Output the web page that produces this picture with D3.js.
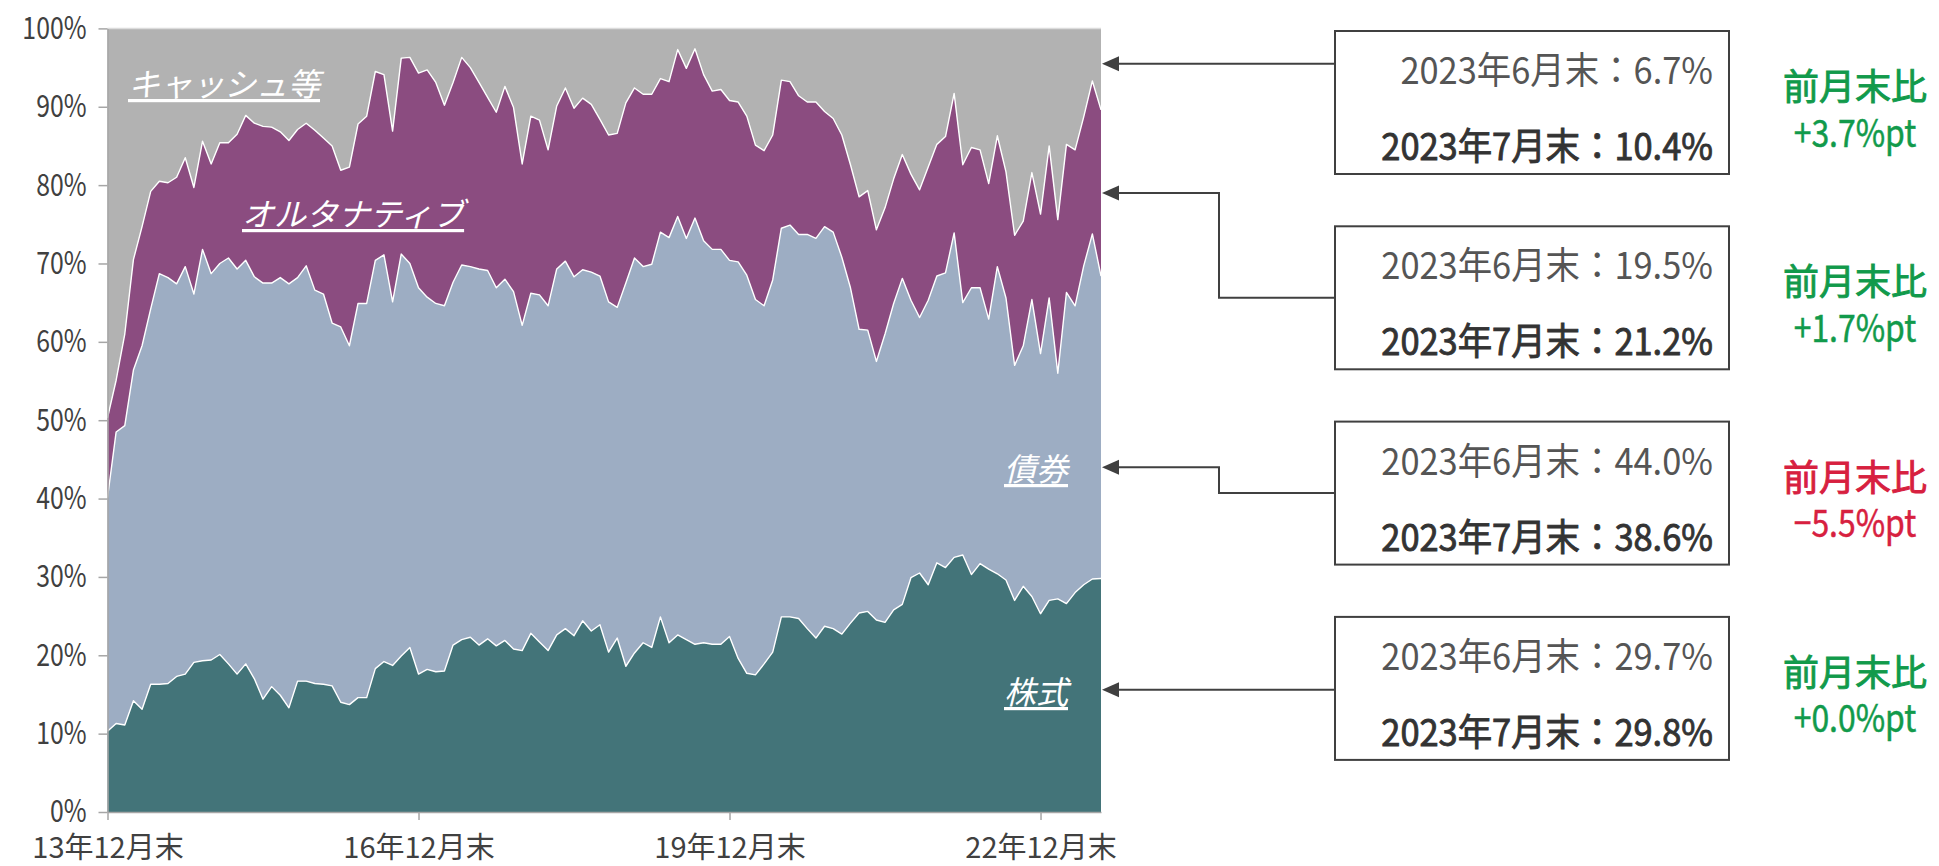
<!DOCTYPE html>
<html>
<head>
<meta charset="utf-8">
<script src="https://cdn.jsdelivr.net/npm/d3@7"></script>
<style>
  body { margin: 0; background: #fff; }
  text { font-family: "Noto Sans CJK JP", sans-serif; }
</style>
</head>
<body>
<div id="chart"></div>
<script>
var W = 1939, H = 866;

// 資産配分（%）2013年12月末〜2023年7月末、月次
var stock = [10.3, 11.3, 11.1, 14.2, 13.1, 16.3, 16.3, 16.4, 17.3, 17.6,
  19.1, 19.3, 19.4, 20.1, 18.9, 17.6, 18.9, 17.0, 14.4, 16.0,
  14.9, 13.3, 16.7, 16.7, 16.4, 16.3, 16.1, 14.0, 13.7, 14.6,
  14.6, 18.3, 19.2, 18.7, 19.9, 21.0, 17.6, 18.2, 17.9, 18.0,
  21.3, 22.0, 22.3, 21.3, 22.1, 21.2, 21.9, 20.8, 20.6, 22.8,
  21.7, 20.6, 22.6, 23.4, 22.5, 24.4, 23.1, 23.9, 20.4, 22.2,
  18.6, 20.3, 21.6, 21.0, 24.9, 21.6, 22.6, 22.0, 21.4, 21.6,
  21.4, 21.4, 22.4, 19.6, 17.7, 17.5, 18.9, 20.4, 24.9, 24.9,
  24.7, 23.4, 22.2, 23.7, 23.4, 22.7, 24.1, 25.4, 25.6, 24.5,
  24.2, 25.8, 26.5, 29.9, 30.5, 29.0, 31.8, 31.2, 32.5, 32.8,
  30.3, 31.7, 31.0, 30.4, 29.6, 27.0, 28.8, 27.5, 25.3, 27.0,
  27.2, 26.6, 28.0, 29.0, 29.7, 29.8];
var bond = [29.8, 37.2, 38.2, 42.2, 46.4, 47.9, 52.4, 51.8, 50.1, 52.0,
  47.0, 52.5, 49.3, 49.9, 51.8, 51.7, 51.5, 51.3, 53.1, 51.5,
  53.3, 54.1, 51.5, 53.0, 50.2, 49.8, 46.3, 47.9, 45.8, 50.3,
  50.3, 52.1, 51.9, 46.4, 51.3, 49.0, 49.3, 47.5, 47.0, 46.6,
  46.3, 47.8, 47.3, 48.0, 47.0, 45.7, 46.1, 45.6, 41.5, 43.4,
  44.3, 44.0, 46.7, 46.9, 45.8, 44.8, 45.8, 44.5, 44.7, 42.2,
  48.9, 50.4, 48.0, 48.9, 49.1, 51.7, 53.4, 51.2, 54.4, 51.3,
  50.4, 50.4, 48.0, 50.6, 50.8, 47.9, 45.7, 47.5, 49.6, 50.0,
  49.0, 50.3, 51.0, 51.0, 50.6, 48.1, 42.8, 36.2, 35.9, 33.0,
  36.8, 39.1, 41.6, 35.4, 32.6, 36.3, 36.6, 37.6, 41.4, 32.2,
  36.6, 35.2, 31.9, 39.2, 36.0, 30.0, 30.7, 37.9, 33.2, 38.6,
  28.8, 39.7, 36.6, 40.7, 44.0, 38.6];
var alt = [10.2, 6.6, 11.7, 14.1, 15.2, 15.0, 11.8, 12.1, 13.6, 13.9,
  13.6, 13.8, 14.0, 15.4, 14.7, 17.2, 18.5, 19.6, 20.0, 19.9,
  18.6, 18.3, 18.9, 18.2, 20.4, 19.9, 22.6, 20.0, 22.8, 22.9,
  23.9, 24.1, 23.0, 21.8, 25.0, 26.3, 27.4, 29.0, 28.2, 25.6,
  25.5, 26.5, 25.4, 23.8, 22.1, 22.4, 24.6, 23.5, 20.6, 22.6,
  22.3, 19.9, 20.8, 22.1, 21.5, 21.9, 21.4, 20.0, 21.3, 22.2,
  23.0, 21.7, 22.0, 21.7, 19.6, 19.9, 21.3, 21.7, 21.6, 21.2,
  20.2, 20.4, 20.4, 20.4, 20.3, 19.7, 19.8, 18.5, 18.9, 18.3,
  17.7, 16.9, 17.4, 14.7, 14.5, 15.6, 15.7, 16.9, 17.8, 16.8,
  16.1, 15.9, 15.8, 16.1, 16.3, 17.0, 16.8, 17.4, 17.8, 17.6,
  17.9, 17.6, 17.3, 16.7, 16.1, 16.6, 15.9, 16.2, 17.8, 19.4,
  19.6, 18.9, 19.9, 19.0, 19.5, 21.2];
var cash = [49.7, 44.9, 39.0, 29.5, 25.3, 20.8, 19.5, 19.7, 19.0, 16.5,
  20.3, 14.4, 17.3, 14.6, 14.6, 13.5, 11.1, 12.1, 12.5, 12.6,
  13.2, 14.3, 12.9, 12.1, 13.0, 14.0, 15.0, 18.1, 17.7, 12.2,
  11.2, 5.5, 5.9, 13.1, 3.8, 3.7, 5.7, 5.3, 6.9, 9.8,
  6.9, 3.7, 5.0, 6.9, 8.8, 10.7, 7.4, 10.1, 17.3, 11.2,
  11.7, 15.5, 9.9, 7.6, 10.2, 8.9, 9.7, 11.6, 13.6, 13.4,
  9.5, 7.6, 8.4, 8.4, 6.4, 6.8, 2.7, 5.1, 2.6, 5.9,
  8.0, 7.8, 9.2, 9.4, 11.2, 14.9, 15.6, 13.6, 6.6, 6.8,
  8.6, 9.4, 9.4, 10.6, 11.5, 13.6, 17.4, 21.5, 20.7, 25.7,
  22.9, 19.2, 16.1, 18.6, 20.6, 17.7, 14.8, 13.8, 8.3, 17.4,
  15.2, 15.5, 19.8, 13.7, 18.3, 26.4, 24.6, 18.4, 23.7, 15.0,
  24.4, 14.8, 15.5, 11.3, 6.7, 10.4];

var keys = ["stock", "bond", "alt", "cash"];
var seriesNames = ["株式", "債券", "オルタナティブ", "キャッシュ等"];
var colors = ["#437479", "#9dadc3", "#8b4c80", "#b2b2b2"];

var monthFmt = d3.timeFormat("%y年%-m月末");
var categories = d3.timeMonth.range(new Date(2013, 11, 1), new Date(2023, 7, 1)).map(monthFmt);
var xTickLabels = ["13年12月末", "16年12月末", "19年12月末", "22年12月末"];
var yTicks = [0, 0.1, 0.2, 0.3, 0.4, 0.5, 0.6, 0.7, 0.8, 0.9, 1];

// 右側の注記
var noteOrder = ["cash", "alt", "bond", "stock"];
var prevLabel = "2023年6月末";
var currLabel = "2023年7月末";
var diffs = [3.7, 1.7, -5.5, 0.0];
var arrowAt = [0.955, 0.79, 0.44, 0.156];
var elbow = [false, true, true, false];

var rows = categories.map(function (c, i) {
  return { cat: c, stock: stock[i], bond: bond[i], alt: alt[i], cash: cash[i] };
});
var values = { stock: stock, bond: bond, alt: alt, cash: cash };

var plotL = 107.5, plotR = 1101, plotT = 28.4, plotB = 812;

// 文字幅を詰める（元図は縦長の字形）
function squeeze(sel, k) {
  sel.each(function () {
    var w = this.getComputedTextLength();
    d3.select(this).attr("textLength", w * k).attr("lengthAdjust", "spacingAndGlyphs");
  });
}

var svg = d3.select("#chart").append("svg")
  .attr("width", W)
  .attr("height", H);

var x = d3.scalePoint().domain(categories).range([plotL, plotR]);
var y = d3.scaleLinear().domain([0, 1]).range([plotB, plotT]);

var series = d3.stack().keys(keys).offset(d3.stackOffsetExpand)(rows);

var area = d3.area()
  .x(function (d) { return x(d.data.cat); })
  .y0(function (d) { return y(d[0]); })
  .y1(function (d) { return y(d[1]); });

svg.append("g").selectAll("path")
  .data(series)
  .join("path")
  .attr("d", area)
  .attr("fill", function (d, i) { return colors[i]; });

var edge = d3.line()
  .x(function (d) { return x(d.data.cat); })
  .y(function (d) { return y(d[1]); });

svg.append("g").selectAll("path")
  .data(series.slice(0, 3))
  .join("path")
  .attr("d", edge)
  .attr("fill", "none")
  .attr("stroke", "#fff")
  .attr("stroke-width", 1.4)
  .attr("stroke-linejoin", "round");

svg.append("line")
  .attr("x1", plotL).attr("x2", plotR)
  .attr("y1", y(1)).attr("y2", y(1))
  .attr("stroke", "#dcdcdc").attr("stroke-width", 1.5);

// 軸
var yAxis = svg.append("g")
  .attr("transform", "translate(" + plotL + ",0)")
  .call(d3.axisLeft(y).tickValues(yTicks)
    .tickFormat(function (d) { return Math.round(d * 100) + "%"; })
    .tickSize(9).tickSizeOuter(0).tickPadding(12));

var xAxis = svg.append("g")
  .attr("transform", "translate(0," + plotB + ")")
  .call(d3.axisBottom(x).tickValues(xTickLabels)
    .tickSize(8).tickSizeOuter(0).tickPadding(17));

svg.selectAll(".domain, .tick line").attr("stroke", "#a6a6a6").attr("stroke-width", 1.5);
yAxis.selectAll("text")
  .attr("fill", "#404040")
  .style("font-size", "31px")
  .call(squeeze, 0.8);
xAxis.selectAll("text")
  .attr("fill", "#404040")
  .style("font-size", "29px");

// 系列名（グラフ内）
var labelPos = [[1004, 690], [1004, 467], [242, 212], [128, 82]];
svg.append("g").selectAll("text")
  .data(seriesNames)
  .join("text")
  .attr("x", function (d, i) { return labelPos[i][0]; })
  .attr("y", function (d, i) { return labelPos[i][1]; })
  .attr("dominant-baseline", "central")
  .attr("fill", "#fff")
  .style("font-size", "32px")
  .style("font-style", "italic")
  .style("text-decoration", "underline")
  .text(function (d) { return d; });

// 注記ボックスと矢印
var boxX = 1335, boxW = 394, boxH = 143, boxTop0 = 31, boxStep = 195.3;
var elbowX = 1219, tipX = plotR + 1;
var green = "#119a4b", red = "#d7203f";
var fmt1 = d3.format(".1f");

var notes = svg.append("g").selectAll("g")
  .data(noteOrder)
  .join("g");

notes.each(function (k, i) {
  var g = d3.select(this);
  var bt = boxTop0 + boxStep * i;
  var ty = y(arrowAt[i]);
  var v = values[k];

  g.append("rect")
    .attr("x", boxX).attr("y", bt)
    .attr("width", boxW).attr("height", boxH)
    .attr("fill", "#fff").attr("stroke", "#404040").attr("stroke-width", 2);

  var pts;
  if (elbow[i]) {
    var my = bt + boxH / 2;
    pts = [[boxX, my], [elbowX, my], [elbowX, ty], [tipX + 14, ty]];
  } else {
    pts = [[boxX, ty], [tipX + 14, ty]];
  }
  g.append("path")
    .attr("d", d3.line()(pts))
    .attr("fill", "none").attr("stroke", "#404040").attr("stroke-width", 2);
  g.append("path")
    .attr("d", "M" + tipX + "," + ty + "L" + (tipX + 17) + "," + (ty - 7.5) + "L" + (tipX + 17) + "," + (ty + 7.5) + "Z")
    .attr("fill", "#404040");

  g.append("text")
    .attr("x", 1713).attr("y", bt + 37)
    .attr("text-anchor", "end").attr("dominant-baseline", "central")
    .attr("fill", "#555")
    .style("font-size", "37px")
    .text(prevLabel + "：" + fmt1(v[v.length - 2]) + "%")
    .call(squeeze, 0.93);
  g.append("text")
    .attr("x", 1713).attr("y", bt + 113)
    .attr("text-anchor", "end").attr("dominant-baseline", "central")
    .attr("fill", "#333").attr("stroke", "#333").attr("stroke-width", 0.9)
    .style("font-size", "37px")
    .text(currLabel + "：" + fmt1(v[v.length - 1]) + "%")
    .call(squeeze, 0.93);

  var c = diffs[i] < 0 ? red : green;
  g.append("text")
    .attr("x", 1855).attr("y", bt + 53)
    .attr("text-anchor", "middle").attr("dominant-baseline", "central")
    .attr("fill", c).attr("stroke", c).attr("stroke-width", 0.9)
    .style("font-size", "36px")
    .text("前月末比");
  g.append("text")
    .attr("x", 1855).attr("y", bt + 99)
    .attr("text-anchor", "middle").attr("dominant-baseline", "central")
    .attr("fill", c).attr("stroke", c).attr("stroke-width", 0.5)
    .style("font-size", "38px")
    .text((diffs[i] < 0 ? "−" : "+") + fmt1(Math.abs(diffs[i])) + "%pt")
    .call(squeeze, 0.84);
});
</script>
</body>
</html>
